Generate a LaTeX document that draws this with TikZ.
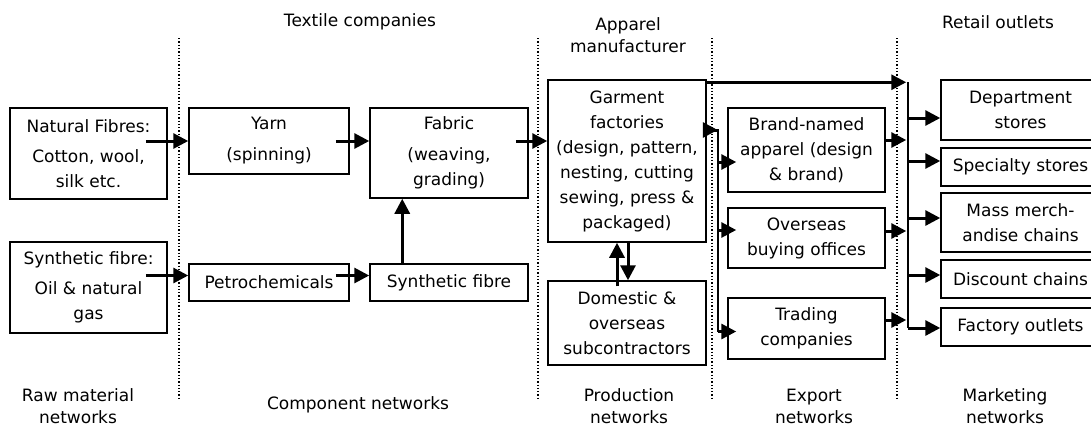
\documentclass[tikz,border=0pt]{standalone}
\usepackage{fontspec}
\setmainfont{DejaVu Sans}
\usetikzlibrary{
  arrows.meta,
  calc
}

\tikzset{
  box/.style={draw, line width=1.5pt, inner sep=0pt, minimum width=157pt, align=center},
  flow/.style={line width=3pt, -{Triangle[length=15pt,width=15pt]}},
  bus/.style={line width=2pt},
  divider/.style={dotted, line width=1.3pt},
  lbl/.style={align=center, font=\fontsize{17}{22}\selectfont}
}

\begin{document}
\begin{tikzpicture}[x=1pt, y=-1pt, font=\fontsize{17}{25}\selectfont]
        \useasboundingbox (0,0) rectangle (1091,429);
        % column dividers
        \foreach \x in {179,538,712,897}
          \draw[divider] (\x,38) -- (\x,398);

        \node[lbl] (textile) at (360,22) {Textile companies};
        \node[lbl] (apparel) at (628,35) {Apparel\\manufacturer};
        \node[lbl] (retail) at (998,22) {Retail outlets};

        \node[box, minimum height=91pt] (nat) at (88.5,153.5) {Natural Fibres:\\[5pt]Cotton, wool,\\silk etc.};
        \node[box, minimum height=91pt] (synraw) at (88.5,287.5) {Synthetic fibre:\\[5pt]Oil \& natural\\gas};
        \node[box, minimum width=160pt, minimum height=66pt] (yarn) at (269,141) {Yarn\\[6pt](spinning)};
        \node[box, minimum width=160pt, minimum height=37pt] (petro) at (269,282.5) {Petrochemicals};
        \node[box, minimum width=158pt, minimum height=90pt] (fabric) at (449,153) {Fabric\\[6pt](weaving,\\grading)};
        \node[box, minimum width=158pt, minimum height=37pt] (synfib) at (449,282.5) {Synthetic fibre};
        \node[box, minimum width=158pt, minimum height=162pt] (garment) at (627,161)
          {Garment\\factories\\(design, pattern,\\nesting, cutting\\sewing, press \&\\packaged)};
        \node[box, minimum width=158pt, minimum height=84pt] (subcon) at (627,323) {Domestic \&\\overseas\\subcontractors};
        \node[box, minimum height=84pt] (brand) at (806.5,150) {Brand-named\\apparel (design\\\& brand)};
        \node[box, minimum height=60pt] (buying) at (806.5,238) {Overseas\\buying offices};
        \node[box, minimum height=61pt] (trading) at (806.5,328.5) {Trading\\companies};
        \node[box, minimum width=159pt, minimum height=60pt] (dept) at (1020.5,110) {Department\\stores};
        \node[box, minimum width=159pt, minimum height=38pt] (spec) at (1020.5,167) {Specialty stores};
        \node[box, minimum width=159pt, minimum height=59pt] (mass) at (1020.5,222.5) {Mass merch-\\andise chains};
        \node[box, minimum width=159pt, minimum height=38pt] (disc) at (1020.5,279) {Discount chains};
        \node[box, minimum width=159pt, minimum height=38pt] (fact) at (1020.5,327) {Factory outlets};

        \node[lbl] (rawnet) at (78,406) {Raw material\\networks};
        \node[lbl] (compnet) at (358,405) {Component networks};
        \node[lbl] (prodnet) at (629,406) {Production\\networks};
        \node[lbl] (expnet) at (814,406) {Export\\networks};
        \node[lbl] (mktnet) at (1005,406) {Marketing\\networks};

        % textile side
	\draw[flow, shorten <=-22pt] (nat.east |- yarn.west) -- (yarn.west);
        \draw[flow, shorten <=-14pt] (yarn.east) -- (yarn.east -| fabric.west);
        \draw[flow, shorten <=-13pt] (fabric.east |- yarn.east) -- (garment.west |- yarn.east);
        \coordinate (petroin) at ($(petro.west)+(0,-7)$);
        \draw[flow, shorten <=-22pt] (synraw.east |- petroin) -- (petroin);
        \draw[flow, shorten <=-14pt] (petro.east |- petroin) -- (synfib.west |- petroin);
        \draw[flow] ($(synfib.north west)+(33,0)$) -- ($(fabric.south west)+(33,0)$);
        \draw[flow] ($(subcon.north)+(-10,6)$) -- ($(garment.south)+(-10,0)$);
        \draw[flow] ($(garment.south)+(1,-2)$) -- ($(subcon.north)+(1,0)$);

        % export bus
        \coordinate (exptop) at ($(garment.east)+(11,-31)$);
        \coordinate (tobrand) at ($(brand.west)+(0,12)$);
        \coordinate (tobuying) at ($(buying.west)+(0,-8)$);
        \coordinate (totrading) at ($(trading.west)+(0,3)$);
        \draw[flow, shorten <=-12pt] (garment.east |- exptop) -- (exptop);
        \draw[bus] (exptop) -- (exptop |- totrading);
        \foreach \t in {tobrand,tobuying,totrading}
          \draw[flow, shorten >=-9pt] (exptop |- \t) -- (\t);

        % retail bus
        \coordinate (gtop) at ($(garment.north east)+(0,3)$);
        \coordinate (busx) at ($(dept.west)+(-32,0)$);
        \coordinate (rettop) at (gtop -| busx);
        \coordinate (frombrand) at ($(brand.east)+(0,-10)$);
        \coordinate (frombuying) at ($(buying.east)+(0,-7)$);
        \coordinate (fromtrading) at ($(trading.east)+(0,-8.5)$);
        \coordinate (todept) at ($(dept.west)+(0,8)$);
        \coordinate (tospec) at ($(spec.west)+(0,-6)$);
        \coordinate (tomass) at ($(mass.west)+(0,-4.5)$);
        \coordinate (todisc) at ($(disc.west)+(0,-4)$);
        \coordinate (tofact) at ($(fact.west)+(0,1)$);
        \draw[flow, shorten >=2pt] (gtop) -- (rettop);
        \draw[bus] (rettop) -- (rettop |- tofact);
        \foreach \f in {frombrand,frombuying,fromtrading}
          \draw[flow, shorten >=2pt] (\f) -- (rettop |- \f);
        \foreach \t in {todept,tospec,tomass,todisc,tofact}
          \draw[flow] (rettop |- \t) -- (\t);
\end{tikzpicture}
\end{document}
